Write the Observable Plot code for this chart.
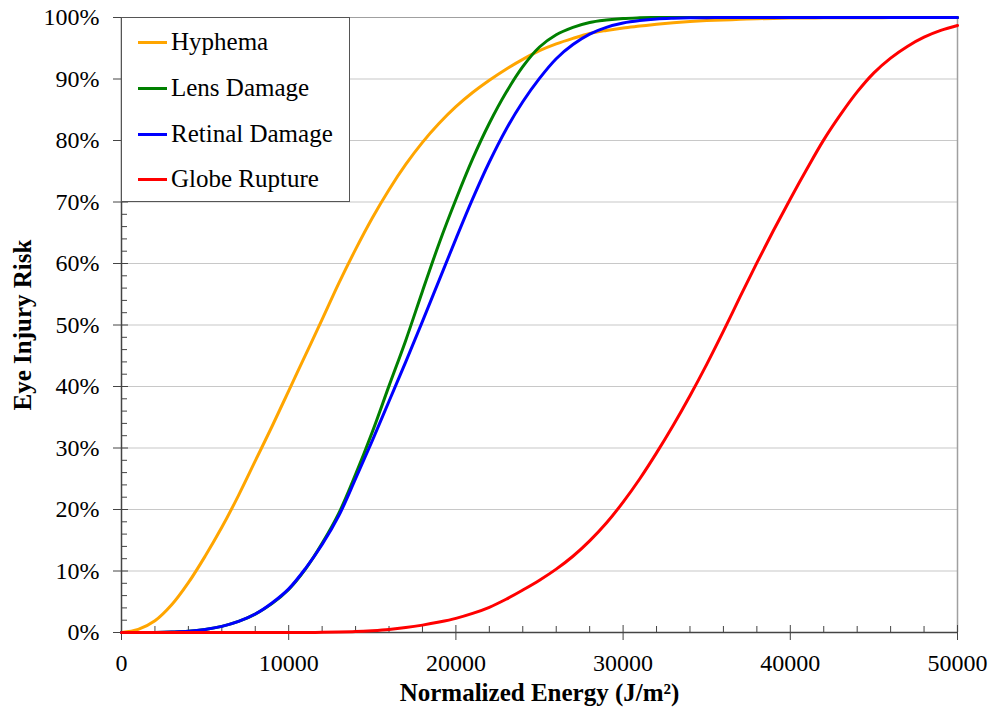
<!DOCTYPE html>
<html>
<head>
<meta charset="utf-8">
<script src="https://cdn.jsdelivr.net/npm/d3@7"></script>
<script src="https://cdn.jsdelivr.net/npm/@observablehq/plot@0.6"></script>
<style>
  html, body { margin: 0; padding: 0; background: #fff; }
  #wrap { position: relative; width: 991px; height: 708px; font-family: "Liberation Serif", "Times New Roman", serif; }
  #legend { position: absolute; left: 121px; top: 17px; width: 227px; height: 183px; border: 1px solid #555; background: #fff; box-sizing: content-box; }
  .item { position: absolute; left: 16px; height: 30px; display: flex; align-items: center; font-size: 25px; color: #000; white-space: nowrap; }
  .swatch { width: 29px; height: 3px; margin-right: 4px; flex: none; }
</style>
</head>
<body>
<div id="wrap"></div>
<script>
// Normalized energy samples (J/m²)
const energy = [0,1000,2000,3000,4000,5000,6000,7000,8000,9000,10000,11000,12000,13000,14000,15000,16000,17000,18000,19000,20000,21000,22000,23000,24000,25000,26000,27000,28000,29000,30000,31000,32000,33000,34000,35000,36000,37000,38000,39000,40000,41000,42000,43000,44000,45000,46000,47000,48000,49000,50000];

// Eye injury risk (%)
const hyphema = [0,0.5,1.9,4.5,8.1,12.4,17.1,22.3,27.9,33.5,39.3,45.1,50.9,56.8,62.3,67.4,72.0,76.1,79.7,82.8,85.5,87.8,89.8,91.6,93.2,94.6,95.7,96.6,97.4,97.9,98.3,98.6,98.9,99.15,99.35,99.5,99.6,99.7,99.8,99.85,99.9,99.92,99.94,99.95,99.96,99.97,99.98,99.98,99.99,99.99,100];
const lensDamage = [0,0,0.02,0.08,0.2,0.5,1.0,1.8,3.0,4.7,7.0,10.3,14.5,19.4,25.7,32.6,40.1,47.5,55.5,63.3,70.4,77.0,82.8,87.8,92.0,95.2,97.2,98.4,99.2,99.6,99.85,99.95,100,100,100,100,100,100,100,100,100,100,100,100,100,100,100,100,100,100,100];
const retinalDamage = [0,0,0.02,0.08,0.2,0.5,1.0,1.8,3.0,4.8,7.1,10.4,14.3,19.0,25.0,31.2,37.6,44.0,50.6,57.3,64.0,70.5,76.5,81.8,86.3,90.1,93.3,95.6,97.3,98.4,99.1,99.5,99.75,99.87,99.94,99.97,99.99,100,100,100,100,100,100,100,100,100,100,100,100,100,100];
const globeRupture = [0,0,0,0,0,0,0,0,0,0,0,0,0.03,0.07,0.15,0.3,0.5,0.8,1.2,1.7,2.3,3.1,4.1,5.4,6.9,8.5,10.3,12.4,14.9,17.8,21.2,25.0,29.2,33.7,38.5,43.6,49.0,54.6,60.1,65.4,70.5,75.4,80.1,84.2,87.9,91.0,93.4,95.3,96.8,97.9,98.7];

const seriesNames = ["Hyphema", "Lens Damage", "Retinal Damage", "Globe Rupture"];
const seriesValues = [hyphema, lensDamage, retinalDamage, globeRupture];
const seriesColors = ["#FFA500", "#008000", "#0000FF", "#FF0000"];

const xTicks = [0, 10000, 20000, 30000, 40000, 50000];
const xMinorTicks = [2000,4000,6000,8000,12000,14000,16000,18000,22000,24000,26000,28000,32000,34000,36000,38000,42000,44000,46000,48000];
const yTicks = [0, 10, 20, 30, 40, 50, 60, 70, 80, 90, 100];
const yMinorTicks = [2,4,6,8,12,14,16,18,22,24,26,28,32,34,36,38,42,44,46,48,52,54,56,58,62,64,66,68,72,74,76,78,82,84,86,88,92,94,96,98];

const xLabel = "Normalized Energy (J/m²)";
const yLabel = "Eye Injury Risk";

const data = seriesNames.flatMap((name, i) =>
  energy.map((e, j) => ({name, energy: e, risk: seriesValues[i][j]})));

const axisColor = "#444";

const chart = Plot.plot({
  width: 991,
  height: 708,
  marginLeft: 121,
  marginRight: 34,
  marginTop: 17,
  marginBottom: 76,
  style: {fontFamily: "'Liberation Serif', 'Times New Roman', serif", fontSize: "24px", color: "#000", background: "#fff"},
  x: {domain: [0, 50000]},
  y: {domain: [0, 100]},
  color: {domain: seriesNames, range: seriesColors},
  marks: [
    Plot.gridY(yTicks.slice(1), {stroke: "#c8c8c8", strokeOpacity: 1, strokeWidth: 1.2}),
    Plot.ruleX([50000], {stroke: "#a0a0a0", strokeWidth: 1.5}),
    Plot.ruleY([100], {stroke: "#a0a0a0", strokeWidth: 1.2}),
    Plot.axisY(yMinorTicks, {tickSize: -6, text: null, stroke: axisColor, label: null}),
    Plot.axisY(yTicks, {tickSize: -7, text: null, stroke: axisColor, label: null}),
    Plot.axisY(yTicks, {tickSize: 8, tickPadding: 14, tickFormat: d => d + "%", stroke: axisColor, fill: "#000", label: null}),
    Plot.axisX(xMinorTicks, {tickSize: -6, text: null, stroke: axisColor, label: null}),
    Plot.axisX(xTicks, {tickSize: -7, text: null, stroke: axisColor, label: null}),
    Plot.axisX(xTicks, {tickSize: 8, tickPadding: 13, tickFormat: d => String(d), stroke: axisColor, fill: "#000", label: null}),
    Plot.ruleX([0], {stroke: axisColor, strokeWidth: 1.5}),
    Plot.ruleY([0], {stroke: axisColor, strokeWidth: 1.5}),
    Plot.line(data, {x: "energy", y: "risk", z: "name", stroke: "name", strokeWidth: 3, curve: "catmull-rom"}),
    Plot.text([yLabel], {frameAnchor: "left", dx: -99, rotate: -90, textAnchor: "middle", lineAnchor: "middle", fontWeight: "bold", fontSize: 25, fill: "#000"}),
    Plot.text([xLabel], {frameAnchor: "bottom", dy: 60, textAnchor: "middle", lineAnchor: "middle", fontWeight: "bold", fontSize: 25, fill: "#000"})
  ]
});

const wrap = document.getElementById("wrap");
wrap.appendChild(chart);

const legend = document.createElement("div");
legend.id = "legend";
const rowTops = [9, 55, 101, 146];
seriesNames.forEach((name, i) => {
  const item = document.createElement("div");
  item.className = "item";
  item.style.top = rowTops[i] + "px";
  const sw = document.createElement("span");
  sw.className = "swatch";
  sw.style.background = seriesColors[i];
  const label = document.createElement("span");
  label.textContent = name;
  item.appendChild(sw);
  item.appendChild(label);
  legend.appendChild(item);
});
wrap.appendChild(legend);
</script>
</body>
</html>
